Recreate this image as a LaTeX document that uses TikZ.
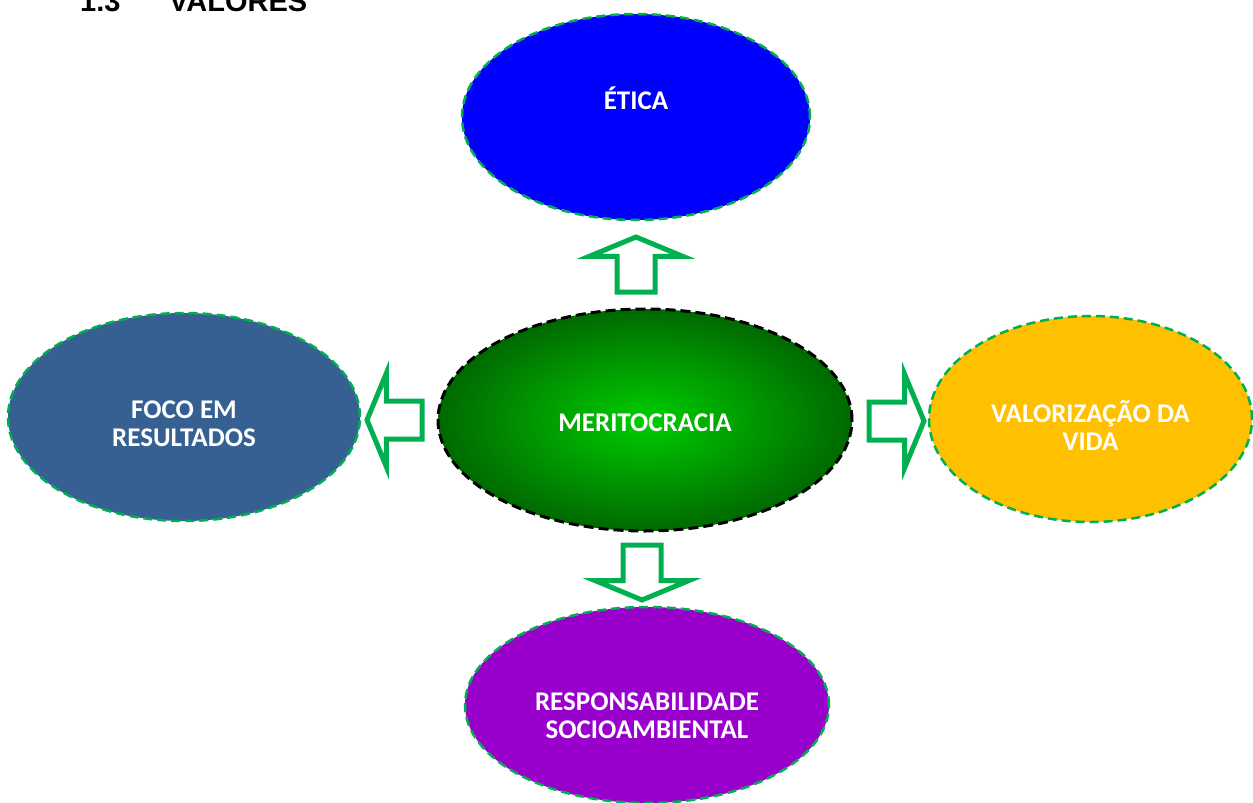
\documentclass[tikz,border=0pt]{standalone}
\usepackage{fontspec}
\setmainfont{Carlito}
\newfontfamily\titlefont{Liberation Sans}
\usetikzlibrary{shapes.geometric,shapes.arrows}
\definecolor{verdeseta}{HTML}{00B050}
\definecolor{azuletica}{HTML}{0000FF}
\definecolor{azulfoco}{HTML}{366092}
\definecolor{amarelovida}{HTML}{FFC000}
\definecolor{roxoresp}{HTML}{9900CC}
\definecolor{verdeclaro}{RGB}{0,205,0}
\definecolor{verdeescuro}{RGB}{0,105,0}
\begin{document}
\begin{tikzpicture}[x=1pt,y=-1pt,line join=round,font=\fontsize{27}{28}\selectfont\bfseries,
	valor/.style={ellipse,inner sep=0pt,draw=verdeseta,line width=2.5pt,dash pattern=on 9pt off 5pt},
	rotulo/.style={text=white,align=center,inner sep=0pt},
	seta/.style={single arrow,draw=verdeseta,fill=white,line width=5pt,line join=miter,inner xsep=0pt,inner ysep=16.5pt,
		minimum height=55pt,single arrow head extend=28pt,single arrow tip angle=135,anchor=tail}]
				\useasboundingbox (0,0) rectangle (1253,803);
				% titulo
				\node[font=\titlefont\fontsize{29}{34}\selectfont\bfseries,anchor=base west,inner sep=0pt] (num) at (80,12) {1.3};
				\node[font=\titlefont\fontsize{29}{34}\selectfont\bfseries,anchor=base west,inner sep=0pt] (titulo) at (169,12) {VALORES};
				% valores
				\node[valor,fill=azuletica,minimum width=348pt,minimum height=206pt] (etica) at (636,117) {};
				\node[valor,fill=azulfoco,minimum width=352pt,minimum height=208pt] (foco) at (184,417) {};
				\node[valor,fill=amarelovida,minimum width=323pt,minimum height=206pt] (vida) at (1090.5,419) {};
				\node[valor,fill=roxoresp,minimum width=364pt,minimum height=196pt] (resp) at (647,705) {};
				\node[valor,draw=black,line width=3pt,dash pattern=on 10pt off 5pt,shading=radial,inner color=verdeclaro,outer color=verdeescuro,
					minimum width=414pt,minimum height=222pt] (merito) at (645,420) {};
				% textos
				\node[rotulo] at ([yshift=19pt]etica.center) {ÉTICA};
				\node[rotulo] at ([yshift=-3pt]merito.center) {MERITOCRACIA};
				\node[rotulo] at ([yshift=-7pt]foco.center) {FOCO EM\\RESULTADOS};
				\node[rotulo] at ([yshift=-7pt]vida.center) {VALORIZAÇÃO DA\\VIDA};
				\node[rotulo] at ([yshift=-11pt]resp.center) {RESPONSABILIDADE\\SOCIOAMBIENTAL};
				% setas
				\node[seta,rotate=90] (setaetica) at (636,294.5) {};
				\node[seta,rotate=180] (setafoco) at (424.5,420) {};
				\node[seta] (setavida) at (866.5,421) {};
				\node[seta,rotate=-90] (setaresp) at (642,542.5) {};
\end{tikzpicture}
\end{document}
